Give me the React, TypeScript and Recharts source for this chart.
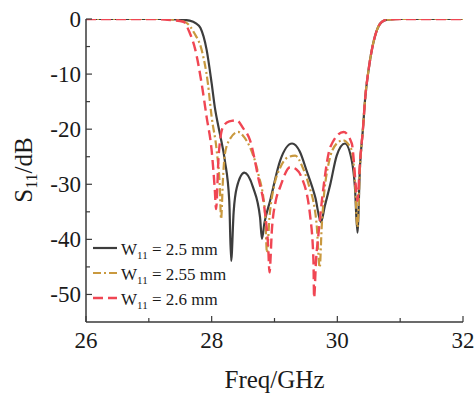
import { LineChart, Line, XAxis, YAxis, Legend } from "recharts"

const xTicks = [26, 27, 28, 29, 30, 31, 32]
const xLabeled = [26, 28, 30, 32]
const yTicks = [0, -5, -10, -15, -20, -25, -30, -35, -40, -45, -50]
const yLabeled = [0, -10, -20, -30, -40, -50]

// [freq GHz, S11 dB]
const w25: [number, number][] = [
  [26, 0], [27.2, 0], [27.5, -0.1], [27.65, -0.3], [27.75, -0.8], [27.82, -1.6], [27.92, -5.6],
  [28.0, -11.7], [28.05, -16], [28.13, -20.8], [28.21, -25.7], [28.28, -33], [28.31, -43.9],
  [28.35, -35], [28.4, -30.6], [28.52, -27.9], [28.66, -30.6], [28.77, -36], [28.8, -39.9],
  [28.84, -37], [28.93, -33], [29.09, -25.7], [29.28, -22.6], [29.4, -24], [29.51, -27.5],
  [29.65, -32.4], [29.74, -36.9], [29.8, -34], [29.89, -29.9], [29.99, -24.8], [30.12, -22.6],
  [30.23, -25.7], [30.28, -30.5], [30.32, -38.8], [30.36, -26.9], [30.41, -19.6], [30.44, -14.8],
  [30.5, -9], [30.56, -5], [30.63, -2], [30.7, -0.6], [30.8, -0.1], [31, 0], [32, 0],
]

const w255: [number, number][] = [
  [26, 0], [27.2, 0], [27.45, -0.2], [27.6, -0.7], [27.72, -2.5], [27.84, -5.6], [27.94, -11.7],
  [28.0, -17.8], [28.08, -23.9], [28.13, -30.6], [28.15, -36.3], [28.18, -29], [28.21, -24.5],
  [28.29, -21.8], [28.42, -20.5], [28.52, -21.5], [28.61, -23.3], [28.74, -28], [28.85, -35.3],
  [28.88, -42.4], [28.92, -36], [29.0, -30], [29.09, -27], [29.2, -25.2], [29.33, -24.8],
  [29.45, -27], [29.54, -29.9], [29.67, -37.2], [29.72, -45.1], [29.75, -38], [29.78, -33],
  [29.86, -26.3], [29.99, -22.6], [30.09, -22], [30.18, -22.8], [30.23, -23.9], [30.28, -29.3],
  [30.32, -37.8], [30.36, -27], [30.41, -19.6], [30.44, -14.8], [30.5, -9], [30.56, -5],
  [30.63, -2], [30.7, -0.6], [30.8, -0.1], [31, 0], [32, 0],
]

const w26: [number, number][] = [
  [26, 0], [27.1, 0], [27.35, -0.2], [27.55, -0.5], [27.65, -2.5], [27.74, -5.6], [27.84, -11.7],
  [27.92, -17.8], [28.0, -23.9], [28.05, -31], [28.07, -34.5], [28.11, -25], [28.18, -19.6],
  [28.28, -18.6], [28.4, -18.4], [28.5, -19.8], [28.61, -22], [28.74, -28.7], [28.85, -35.3],
  [28.9, -41.5], [28.92, -46], [28.96, -38], [29.02, -33], [29.09, -30.5], [29.25, -26.9],
  [29.35, -27.3], [29.43, -28.7], [29.57, -36], [29.62, -43.9], [29.63, -50.6], [29.66, -44],
  [29.7, -39], [29.78, -30.5], [29.89, -23.2], [30.1, -20.5], [30.23, -22.6], [30.3, -31],
  [30.32, -33], [30.36, -26], [30.41, -19.6], [30.44, -14.8], [30.5, -9], [30.56, -5],
  [30.63, -2], [30.7, -0.6], [30.8, -0.1], [31, 0], [32, 0],
]

const toRows = (pts: [number, number][]) => pts.map(([f, s]) => ({ f, s }))

const series = [
  { name: "2.5", rows: toRows(w25), color: "#3d3d3d", dash: undefined, width: 2.2 },
  { name: "2.55", rows: toRows(w255), color: "#c9993f", dash: "8 3 2 3", width: 2.2 },
  { name: "2.6", rows: toRows(w26), color: "#f04653", dash: "10 5", width: 2.4 },
]

const AX = "#3a3a3a"
const INK = "#1a1a1a"
const serif = "'Liberation Serif', 'Times New Roman', serif"
const txt = { fontFamily: serif, fill: INK }

function BottomTick({ x, y, payload }: any) {
  const major = xLabeled.includes(payload.value)
  return (
    <g>
      <line x1={x} x2={x} y1={y} y2={y - (major ? 6 : 4)} stroke={AX} strokeWidth={1.2} />
      {major && (
        <text x={x} y={y + 26} textAnchor="middle" fontSize={23} style={txt}>
          {payload.value}
        </text>
      )}
    </g>
  )
}

function TopTick({ x, y, payload }: any) {
  const major = xLabeled.includes(payload.value)
  return <line x1={x} x2={x} y1={y} y2={y + (major ? 6 : 4)} stroke={AX} strokeWidth={1.2} />
}

function LeftTick({ x, y, payload }: any) {
  const major = yLabeled.includes(payload.value)
  return (
    <g>
      <line x1={x} x2={x + (major ? 6 : 4)} y1={y} y2={y} stroke={AX} strokeWidth={1.2} />
      {major && (
        <text x={x - 5} y={y + 8} textAnchor="end" fontSize={23} style={txt}>
          {payload.value}
        </text>
      )}
    </g>
  )
}

function RightTick({ x, y, payload }: any) {
  const major = yLabeled.includes(payload.value)
  return <line x1={x} x2={x - (major ? 6 : 4)} y1={y} y2={y} stroke={AX} strokeWidth={1.2} />
}

function XTitle() {
  return (
    <text x={274.5} y={388} textAnchor="middle" fontSize={25} style={txt}>
      Freq/GHz
    </text>
  )
}

function YTitle() {
  return (
    <text x={32} y={170} textAnchor="middle" fontSize={25} style={txt} transform="rotate(-90 32 170)">
      S
      <tspan fontSize={16} dy={5}>11</tspan>
      <tspan dy={-5}>/dB</tspan>
    </text>
  )
}

function LegendBox() {
  return (
    <svg width={170} height={80} style={{ display: "block" }}>
      {series.map((s, i) => (
        <g key={s.name} transform={`translate(0, ${i * 25})`}>
          <line x1={3} x2={27} y1={14} y2={14} stroke={s.color} strokeWidth={s.width} strokeDasharray={s.dash} />
          <text x={31} y={21} fontSize={17} style={txt}>
            W<tspan fontSize={11} dy={4}>11</tspan>
            <tspan dy={-4}> = {s.name} mm</tspan>
          </text>
        </g>
      ))}
    </svg>
  )
}

export default function App() {
  return (
    <div style={{ position: "absolute", left: 0, top: 0, background: "#fff" }}>
      <LineChart width={475} height={398} margin={{ top: 19, right: 12, left: 0, bottom: 0 }}>
        <XAxis
          xAxisId="b"
          dataKey="f"
          type="number"
          domain={[26, 32]}
          ticks={xTicks}
          interval={0}
          height={76}
          tickSize={0}
          tickMargin={0}
          tick={<BottomTick />}
          axisLine={{ stroke: AX, strokeWidth: 1.5 }}
          label={<XTitle />}
          allowDataOverflow
        />
        <XAxis
          xAxisId="t"
          orientation="top"
          type="number"
          domain={[26, 32]}
          ticks={xTicks}
          interval={0}
          height={0}
          tickSize={0}
          tickMargin={0}
          tick={<TopTick />}
          axisLine={{ stroke: AX, strokeWidth: 1.5 }}
          allowDataOverflow
        />
        <YAxis
          yAxisId="l"
          type="number"
          domain={[-55, 0]}
          ticks={yTicks}
          interval={0}
          width={86}
          tickSize={0}
          tickMargin={0}
          tick={<LeftTick />}
          axisLine={{ stroke: AX, strokeWidth: 1.5 }}
          label={<YTitle />}
          allowDataOverflow
        />
        <YAxis
          yAxisId="r"
          orientation="right"
          type="number"
          domain={[-55, 0]}
          ticks={yTicks}
          interval={0}
          width={0}
          tickSize={0}
          tickMargin={0}
          tick={<RightTick />}
          axisLine={{ stroke: AX, strokeWidth: 1.5 }}
          allowDataOverflow
        />
        {series.map((s) => (
          <Line
            key={s.name}
            xAxisId="b"
            yAxisId="l"
            data={s.rows}
            dataKey="s"
            name={`W11 = ${s.name} mm`}
            type="monotone"
            stroke={s.color}
            strokeWidth={s.width}
            strokeDasharray={s.dash}
            dot={false}
            activeDot={false}
            isAnimationActive={false}
          />
        ))}
        <Legend
          layout="horizontal"
          verticalAlign="middle"
          align="center"
          content={<LegendBox />}
          wrapperStyle={{ position: "absolute", left: 90, top: 234, width: 170, height: 80 }}
        />
      </LineChart>
    </div>
  )
}
